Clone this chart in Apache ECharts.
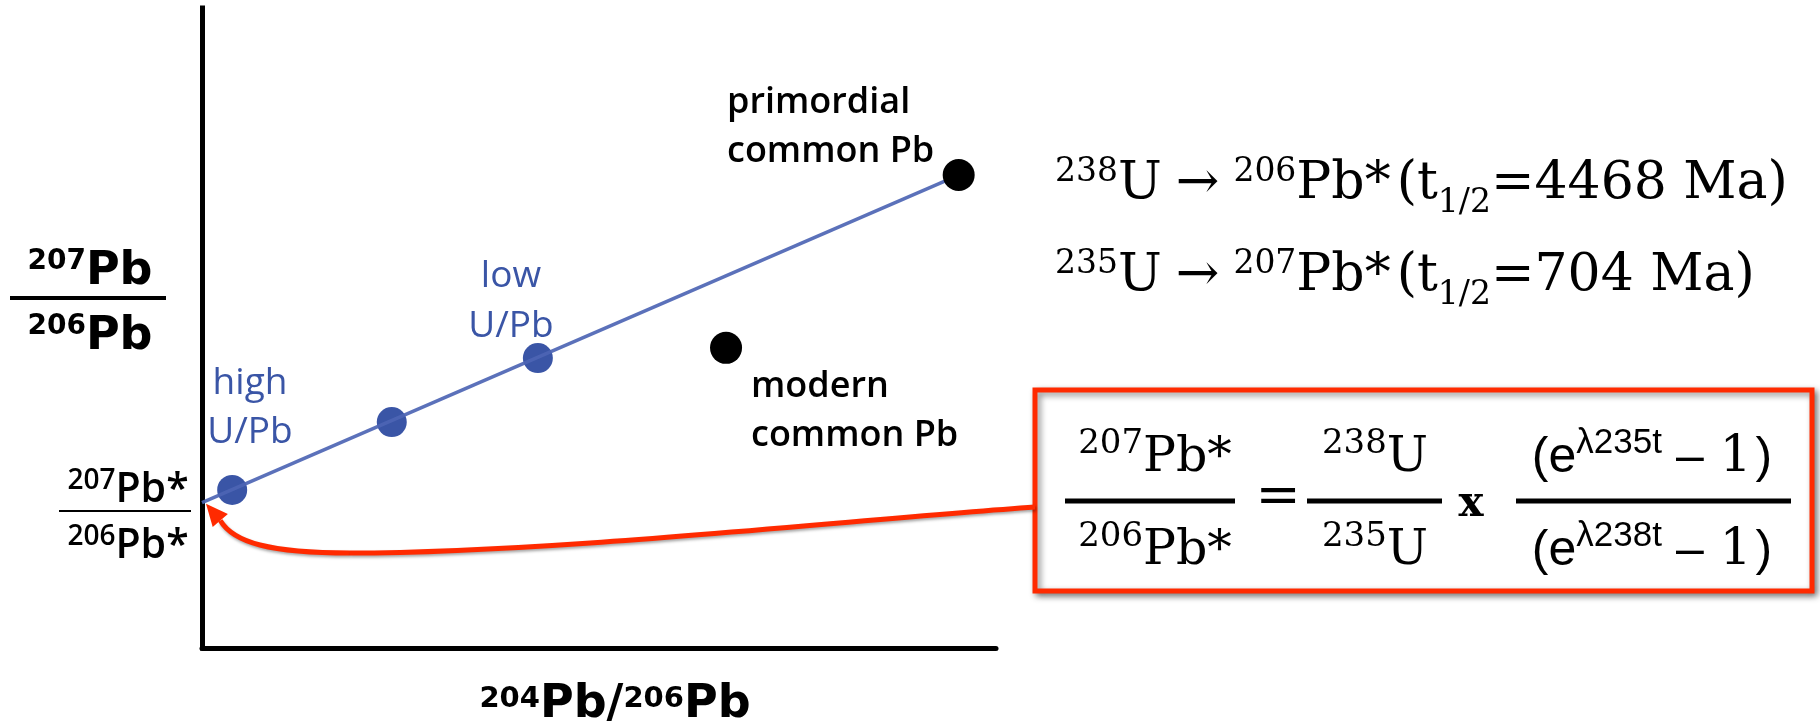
<!DOCTYPE html>
<html>
<head>
<meta charset="utf-8">
<script src="https://cdn.jsdelivr.net/npm/echarts@6/dist/echarts.min.js"></script>
<style>
  html, body { margin: 0; padding: 0; background: #fff; }
  #chart { width: 1820px; height: 723px; }
</style>
</head>
<body>
<div id="chart"></div>
<script>
// Pb isotope diagram: x = 204Pb/206Pb, y = 207Pb/206Pb (schematic units)
const axisRangeX = [0, 10];
const axisRangeY = [0, 10];
const radiogenicIntercept = [0, 2.27];                       // 207Pb*/206Pb* on the y axis
const mixingSamples = [[0.38, 2.47], [2.39, 3.53], [4.23, 4.53]];
const primordialLead = [9.53, 7.39];
const modernLead = [6.60, 4.69];

const highLabel = ['high', 'U/Pb'];
const lowLabel = ['low', 'U/Pb'];
const primordialLabel = ['primordial', 'common Pb'];
const modernLabel = ['modern', 'common Pb'];
const decayLine238 = { parent: '238', daughter: '206', halfLife: '4468' };
const decayLine235 = { parent: '235', daughter: '207', halfLife: '704' };

const BLUE = '#3a55a6';
const RED = '#ff2a00';
const SANS = '"Open Sans", "Noto Sans", sans-serif';
const HEAVY = '"DejaVu Sans", sans-serif';
const SERIF = '"DejaVu Serif", serif';
const HELV = '"Liberation Sans", Arial, sans-serif';

const chart = echarts.init(document.getElementById('chart'), null, { renderer: 'canvas' });

chart.setOption({
  animation: false,
  backgroundColor: '#fff',
  grid: { left: 202, top: 8, width: 794, height: 640, containLabel: false },
  xAxis: {
    type: 'value', min: axisRangeX[0], max: axisRangeX[1],
    axisLine: { show: true, onZero: false, lineStyle: { color: '#000', width: 5 } },
    axisTick: { show: false }, axisLabel: { show: false }, splitLine: { show: false }
  },
  yAxis: {
    type: 'value', min: axisRangeY[0], max: axisRangeY[1],
    axisLine: { show: true, onZero: false, lineStyle: { color: '#000', width: 5, cap: 'square' } },
    axisTick: { show: false }, axisLabel: { show: false }, splitLine: { show: false }
  },
  series: [
    {
      type: 'scatter', data: mixingSamples, symbolSize: 30, z: 2,
      itemStyle: { color: BLUE, opacity: 1 }, silent: true
    },
    {
      type: 'line', data: [radiogenicIntercept, primordialLead], symbol: 'none', z: 3,
      lineStyle: { color: '#4d65b4', width: 3.5, opacity: 0.92 }, silent: true
    },
    {
      type: 'scatter', data: [primordialLead, modernLead], symbolSize: 32, z: 4,
      itemStyle: { color: '#000', opacity: 1 }, silent: true
    }
  ]
});

// ---- text helpers: runs of pieces sharing one baseline (super/subscripts via rise) ----
const MID = 0.28;   // canvas 'middle' sits this fraction of the font size above the baseline
const measure = document.createElement('canvas').getContext('2d');
function fontOf(p) { return (p.weight || 'normal') + ' ' + p.size + 'px ' + p.family; }
function widthOf(p) { measure.font = fontOf(p); return measure.measureText(p.t).width; }

function run(x, baseline, anchor, pieces, color) {
  const ws = pieces.map(widthOf);
  let total = 0;
  pieces.forEach((p, i) => { total += (p.gap || 0) + ws[i]; });
  let cx = anchor === 'center' ? x - total / 2 : anchor === 'right' ? x - total : x;
  return pieces.map((p, i) => {
    cx += p.gap || 0;
    const el = {
      type: 'text', x: cx, y: baseline - (p.rise || 0) - MID * p.size, z: 20, silent: true,
      style: { text: p.t, font: fontOf(p), fill: p.color || color, align: 'left', verticalAlign: 'middle' }
    };
    cx += ws[i];
    return el;
  });
}
function bar(x1, x2, yc, h) {
  return { type: 'rect', z: 20, silent: true, shape: { x: x1, y: yc - h / 2, width: x2 - x1, height: h }, style: { fill: '#000' } };
}
function lines(x, baselines, anchor, texts, font, color) {
  let out = [];
  texts.forEach((t, i) => { out = out.concat(run(x, baselines[i], anchor, [Object.assign({ t: t }, font)], color)); });
  return out;
}
const P = (t, f, extra) => Object.assign({ t: t }, f, extra || {});

const g = [];

// y axis title 207Pb / 206Pb
const bSup = { size: 28, family: HEAVY, weight: 'bold', rise: 15 };
const bMain = { size: 46, family: HEAVY, weight: 'bold' };
g.push(...run(90, 285, 'center', [P('207', bSup), P('Pb', bMain)], '#000'));
g.push(bar(10, 166, 298, 4));
g.push(...run(90, 350, 'center', [P('206', bSup), P('Pb', bMain)], '#000'));

// radiogenic ratio at the intercept
const sSup = { size: 28, family: SANS, weight: '600', rise: 13 };
const sMain = { size: 41, family: SANS, weight: '600' };
g.push(...run(128, 502, 'center', [P('207', sSup), P('Pb*', sMain)], '#000'));
g.push(bar(59, 191, 511, 2));
g.push(...run(128, 558, 'center', [P('206', sSup), P('Pb*', sMain)], '#000'));

// x axis title
const xSup = { size: 29, family: HEAVY, weight: 'bold', rise: 10 };
g.push(...run(615, 718, 'center', [P('204', xSup), P('Pb/', bMain), P('206', xSup), P('Pb', bMain)], '#000'));

// point annotations
const blueFont = { size: 37, family: SANS, weight: 'normal' };
const blackFont = { size: 36, family: SANS, weight: '600' };
g.push(...lines(250, [394, 443], 'center', highLabel, blueFont, BLUE));
g.push(...lines(511, [287, 337], 'center', lowLabel, blueFont, BLUE));
g.push(...lines(727, [113, 162], 'left', primordialLabel, blackFont, '#000'));
g.push(...lines(751, [397, 446], 'left', modernLabel, blackFont, '#000'));

// decay schemes
function decayRow(d, baseline) {
  const sup = { size: 33, family: SERIF, rise: 17 };
  const main = { size: 52, family: SERIF };
  return run(1055, baseline, 'left', [
    P(d.parent, sup), P('U', main),
    P('→', main, { gap: 14 }),
    P(d.daughter, sup, { gap: 14 }), P('Pb*', main),
    P('(', main, { gap: 6 }), P('t', main),
    { t: '1/2', size: 33, family: SERIF, rise: -14 },
    P('=' + d.halfLife + ' Ma)', main)
  ], '#000');
}
g.push(...decayRow(decayLine238, 199));
g.push(...decayRow(decayLine235, 291));

// boxed age equation
g.push({
  type: 'rect', z: 5, silent: true,
  shape: { x: 1035, y: 390, width: 777, height: 201 },
  style: { fill: '#fff', stroke: RED, lineWidth: 5, shadowBlur: 6, shadowOffsetX: 3, shadowOffsetY: 3, shadowColor: 'rgba(0,0,0,0.45)' }
});
const eSup = { size: 34, family: SERIF, rise: 18 };
const eMain = { size: 49, family: SERIF };
g.push(...run(1155, 472, 'center', [P('207', eSup), P('Pb*', eMain)], '#000'));
g.push(bar(1065, 1235, 501, 5));
g.push(...run(1155, 565, 'center', [P('206', eSup), P('Pb*', eMain)], '#000'));
g.push(...run(1278, 514, 'center', [P('=', { size: 54, family: SERIF })], '#000'));
g.push(...run(1375, 472, 'center', [P('238', eSup), P('U', eMain)], '#000'));
g.push(bar(1307, 1442, 501, 5));
g.push(...run(1375, 565, 'center', [P('235', eSup), P('U', eMain)], '#000'));
g.push(...run(1471, 517, 'center', [{ t: 'x', size: 42, family: SERIF, weight: 'bold' }], '#000'));
function expoTerm(iso, baseline) {
  return run(1652, baseline, 'center', [
    { t: '(e', size: 50, family: HELV },
    { t: 'λ' + iso + 't', size: 35, family: HELV, rise: 19 },
    { t: '–', size: 50, family: HELV, gap: 14 },
    { t: '1', size: 50, family: SERIF, gap: 16 },
    { t: ')', size: 50, family: HELV, gap: 4 }
  ], '#000');
}
g.push(...expoTerm('235', 472));
g.push(bar(1516, 1791, 501, 5));
g.push(...expoTerm('238', 565));

// red arrow from the equation box to the intercept
const tipPx = chart.convertToPixel({ gridIndex: 0 }, radiogenicIntercept);
const tip = [tipPx[0] + 4, tipPx[1] + 1];
const dir = [-0.65, -0.76];
const headLen = 22, headHalf = 10;
const base = [tip[0] - dir[0] * headLen, tip[1] - dir[1] * headLen];
const nrm = [-dir[1], dir[0]];
const arrowShadow = { shadowBlur: 3, shadowOffsetX: 1, shadowOffsetY: 2, shadowColor: 'rgba(0,0,0,0.35)' };
g.push({
  type: 'bezierCurve', z: 6, silent: true,
  shape: { x1: base[0], y1: base[1], cpx1: base[0] + 13, cpy1: base[1] + 22, cpx2: 270, cpy2: 553, x2: 350, y2: 553 },
  style: Object.assign({ stroke: RED, lineWidth: 5, fill: null }, arrowShadow)
});
g.push({
  type: 'bezierCurve', z: 6, silent: true,
  shape: { x1: 350, y1: 553, cpx1: 550, cpy1: 553, cpx2: 850, cpy2: 520, x2: 1035, y2: 507 },
  style: Object.assign({ stroke: RED, lineWidth: 5, fill: null }, arrowShadow)
});
g.push({
  type: 'polygon', z: 7, silent: true,
  shape: { points: [tip, [base[0] + nrm[0] * headHalf, base[1] + nrm[1] * headHalf], [base[0] - nrm[0] * headHalf, base[1] - nrm[1] * headHalf]] },
  style: { fill: RED }
});

chart.setOption({ graphic: { elements: g } });
</script>
</body>
</html>
